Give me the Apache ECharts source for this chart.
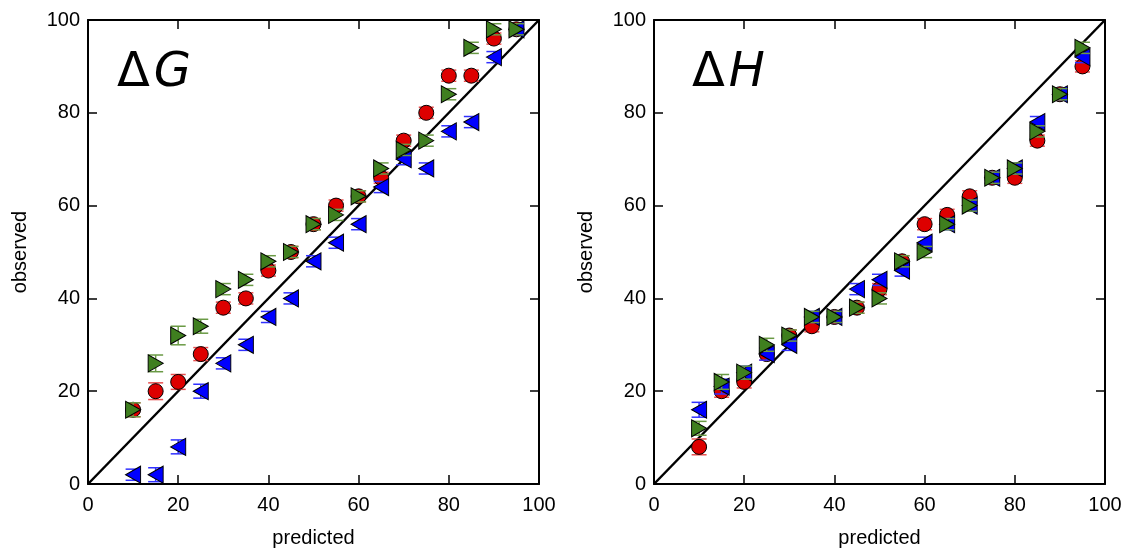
<!DOCTYPE html>
<html><head><meta charset="utf-8">
<script src="https://cdn.jsdelivr.net/npm/echarts@6/dist/echarts.min.js"></script>
<style>html,body{margin:0;padding:0;background:#fff}#c{width:1140px;height:550px}</style>
</head><body><div id="c"></div>
<script>
const predicted = [10,15,20,25,30,35,40,45,50,55,60,65,70,75,80,85,90,95];
const ticks = [0,20,40,60,80,100];
const panelTitles = ['G','H'];
// ΔG panel
const gRed   = [16,20,22,28,38,40,46,50,56,60,62,66,74,80,88,88,96,98];
const gGreen = [16,26,32,34,42,44,48,50,56,58,62,68,72,74,84,94,98,98];
const gBlue  = [2,2,8,20,26,30,36,40,48,52,56,64,70,68,76,78,92,98];
const gRedErr   = [1.5,1.8,1.6,1.4,1.2,1.2,1.2,1.2,1.2,1.2,1.2,1.2,1.2,1.2,1.2,1.2,1.2,1.2];
const gGreenErr = [1.5,1.8,2.0,1.5,1.2,1.2,1.2,1.2,1.2,1.2,1.2,1.2,1.2,1.2,1.2,1.2,1.2,1.2];
const gBlueErr  = [1.2,1.5,1.5,1.5,1.2,1.2,1.2,1.2,1.2,1.2,1.2,1.2,1.2,1.2,1.2,1.2,1.2,1.2];
// ΔH panel
const hRed   = [8,20,22,28,32,34,36,38,42,48,56,58,62,66,66,74,84,90];
const hGreen = [12,22,24,30,32,36,36,38,40,48,50,56,60,66,68,76,84,94];
const hBlue  = [16,21,24,28,30,36,36,42,44,46,52,56,60,66,68,78,84,92];
const hRedErr   = [1.7,1.3,1.3,1.3,1.2,1.2,1.2,1.2,1.2,1.2,1.2,1.2,1.2,1.2,1.2,1.2,1.2,1.2];
const hGreenErr = [1.5,1.6,1.4,1.4,1.2,1.2,1.2,1.2,1.2,1.2,1.2,1.2,1.2,1.2,1.2,1.2,1.2,1.2];
const hBlueErr  = [1.6,1.6,1.4,1.3,1.2,1.2,1.2,1.2,1.2,1.2,1.2,1.2,1.2,1.2,1.2,1.2,1.2,1.2];

const chart = echarts.init(document.getElementById('c'));
const FONT = 'Liberation Sans, Arial, sans-serif';

function errSeries(gi, vals, errs, color, z) {
  return {
    type: 'custom', xAxisIndex: gi*2, yAxisIndex: gi*2, z: z, silent: true,
    data: predicted.map((x,i)=>[x, vals[i], errs[i]]),
    renderItem: function(params, api) {
      const x = api.value(0), y = api.value(1), e = api.value(2);
      const hi = api.coord([x, y+e]), lo = api.coord([x, y-e]);
      const hw = 7.5;
      const st = {stroke: color, lineWidth: 1.5};
      return {type:'group', children:[
        {type:'line', shape:{x1:hi[0],y1:hi[1],x2:lo[0],y2:lo[1]}, style:st},
        {type:'line', shape:{x1:hi[0]-hw,y1:hi[1],x2:hi[0]+hw,y2:hi[1]}, style:st},
        {type:'line', shape:{x1:lo[0]-hw,y1:lo[1],x2:lo[0]+hw,y2:lo[1]}, style:st}
      ]};
    }
  };
}
function scat(gi, vals, color, symbol, rot, size, z) {
  return {
    type: 'scatter', xAxisIndex: gi*2, yAxisIndex: gi*2, z: z,
    symbol: symbol, symbolRotate: rot, symbolSize: size,
    itemStyle: {color: color, borderColor: '#000', borderWidth: 1, opacity: 1},
    data: predicted.map((x,i)=>[x, vals[i]])
  };
}
function diag(gi) {
  return {type:'line', xAxisIndex: gi*2, yAxisIndex: gi*2, z: 1, symbol:'none', silent:true,
    lineStyle:{color:'#000', width:2.5}, data:[[0,0],[100,100]]};
}

const grids = [
  {left: 88, top: 20, width: 451, height: 464, outerBoundsMode: 'none', containLabel: false},
  {left: 654, top: 20, width: 451, height: 464, outerBoundsMode: 'none', containLabel: false}
];
const xAxes = [], yAxes = [];
grids.forEach((g, gi) => {
  const base = {type:'value', gridIndex: gi, min: 0, max: 100, interval: 20,
    splitLine:{show:false},
    axisLine:{show:true, onZero:false, lineStyle:{color:'#000', width:2}},
    axisTick:{show:true, inside:true, length:9, lineStyle:{color:'#000', width:1.5}}};
  xAxes.push(Object.assign({}, base, {position:'bottom',
    name:'predicted', nameLocation:'middle', nameGap: 44,
    nameTextStyle:{fontFamily: FONT, fontSize: 20, color:'#000'},
    axisLabel:{fontFamily: FONT, fontSize: 20, color:'#000', margin: 11,
      formatter: v => ticks.includes(v) ? String(v) : ''}}));
  xAxes.push(Object.assign({}, base, {position:'top', axisLabel:{show:false}}));
  yAxes.push(Object.assign({}, base, {position:'left',
    name:'observed', nameLocation:'middle', nameGap: 58,
    nameTextStyle:{fontFamily: FONT, fontSize: 20, color:'#000'},
    axisLabel:{fontFamily: FONT, fontSize: 20, color:'#000', margin: 8,
      formatter: v => ticks.includes(v) ? String(v) : ''}}));
  yAxes.push(Object.assign({}, base, {position:'right', axisLabel:{show:false}}));
});

const RED = '#dd0000', GREEN = '#3f7f1f', BLUE = '#0000ff';
const RED_E = '#e85050', GREEN_E = '#6a9a45', BLUE_E = '#3030ff';
const series = [];
[[gRed,gGreen,gBlue,gRedErr,gGreenErr,gBlueErr],[hRed,hGreen,hBlue,hRedErr,hGreenErr,hBlueErr]].forEach((d, gi) => {
  series.push(diag(gi));
  series.push(errSeries(gi, d[0], d[3], RED_E, 2));
  series.push(scat(gi, d[0], RED, 'circle', 0, 15, 3));
  series.push(errSeries(gi, d[2], d[5], BLUE_E, 4));
  series.push(scat(gi, d[2], BLUE, 'triangle', 90, [17,15], 5));
  series.push(errSeries(gi, d[1], d[4], GREEN_E, 6));
  series.push(scat(gi, d[1], GREEN, 'triangle', -90, [17,15], 7));
});

chart.setOption({
  animation: false,
  grid: grids,
  xAxis: xAxes,
  yAxis: yAxes,
  graphic: panelTitles.map((t, gi) => ({
    type:'text', left: gi === 0 ? 117 : 692, top: 50, z: 20,
    style:{
      text: '{d|Δ}{v|' + t + '}',
      rich:{
        d:{fontFamily:'DejaVu Sans', fontSize: 48, fill:'#000'},
        v:{fontFamily:'DejaVu Sans', fontStyle:'italic', fontSize: 48, fill:'#000', padding:[0,0,0,4]}
      }
    }
  })),
  series: series
});
</script></body></html>
